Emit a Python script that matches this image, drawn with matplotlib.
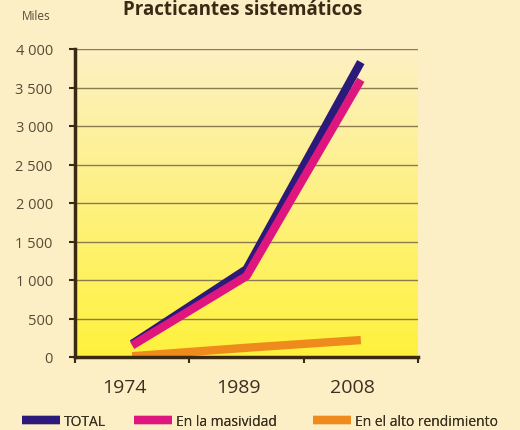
import matplotlib.pyplot as plt
import matplotlib.transforms as mtransforms
import numpy as np
from matplotlib.colors import LinearSegmentedColormap

plt.rcParams['font.family'] = ['Open Sans', 'DejaVu Sans']

# --- datos (miles de practicantes) ---
years = ["1974", "1989", "2008"]
total = [170, 1140, 3830]
masividad = [150, 1050, 3600]
alto_rendimiento = [10, 120, 220]
yticks = [0, 500, 1000, 1500, 2000, 2500, 3000, 3500, 4000]
ytick_labels = ["0", "500", "1 000", "1 500", "2 000", "2 500", "3 000", "3 500", "4 000"]

W, H = 520, 431
fig = plt.figure(figsize=(W / 100, H / 100), dpi=100)
fig.patch.set_facecolor("#fcefc6")

ax = fig.add_axes([75 / W, (H - 358) / H, (418 - 75) / W, (358 - 50) / H])
ax.set_xlim(-0.5, 2.5)
ax.set_ylim(0, 4000)

# fondo degradado crema -> amarillo
cmap = LinearSegmentedColormap.from_list("bg", ["#fff23c", "#fdf0c4"])
grad = np.linspace(0, 1, 256).reshape(-1, 1)
ax.imshow(grad, cmap=cmap, aspect="auto", extent=(-0.5, 2.5, 0, 4000),
          origin="lower", zorder=0)

for y in yticks[1:]:
    ax.axhline(y, color="#8c7a55", lw=1.0, zorder=1)

x = np.arange(len(years))
l_alto, = ax.plot(x, alto_rendimiento, color="#ef8a1c", lw=6, solid_capstyle="butt", zorder=3)
l_total, = ax.plot(x, total, color="#2b1a7a", lw=6, solid_capstyle="butt", zorder=4)
l_mas, = ax.plot(x, masividad, color="#e0167f", lw=6, solid_capstyle="butt", zorder=5)

for s in ["top", "right"]:
    ax.spines[s].set_visible(False)
for s in ["left", "bottom"]:
    ax.spines[s].set_color("#3a2a12")
    ax.spines[s].set_linewidth(2.5)
    ax.spines[s].set_zorder(6)

ax.set_yticks(yticks)
ax.set_yticklabels(ytick_labels, fontsize=10.5, color="#5a4a35")
ax.tick_params(axis="y", length=4, width=1.5, color="#3a2a12", pad=12)

ax.set_xticks(x)
ax.set_xticklabels(years, fontsize=14, color="#3a3020")
ax.set_xticks([-0.5, 0.5, 1.5, 2.5], minor=True)
ax.tick_params(axis="x", which="major", length=0, pad=15)
ax.tick_params(axis="x", which="minor", length=4, width=1.5, color="#3a2a12")
offset = mtransforms.ScaledTranslation(-8 / 100, 0, fig.dpi_scale_trans)
for lab in ax.get_xticklabels():
    lab.set_transform(lab.get_transform() + offset)

fig.text(243 / W, 1 - 15 / H, "Practicantes sistemáticos", ha="center", va="baseline",
         fontsize=13.5, fontweight="bold", color="#3a2a15")
fig.text(22 / W, 1 - 17 / H, "Miles", ha="left", va="center", fontsize=8.5, color="#5a4a35")

# leyenda: una entrada por serie
entries = [(l_total, "TOTAL", 22), (l_mas, "En la masividad", 134), (l_alto, "En el alto rendimiento", 313)]
for handle, label, xpos in entries:
    leg = fig.legend([handle], [label], loc="lower left", bbox_to_anchor=(xpos / W, 1 / H),
                     frameon=False, fontsize=10, handlelength=2.7, handletextpad=0.3,
                     borderpad=0, borderaxespad=0, labelcolor="#3a3020")
    fig.add_artist(leg)

fig.savefig("out.png", dpi=100, facecolor=fig.get_facecolor())
